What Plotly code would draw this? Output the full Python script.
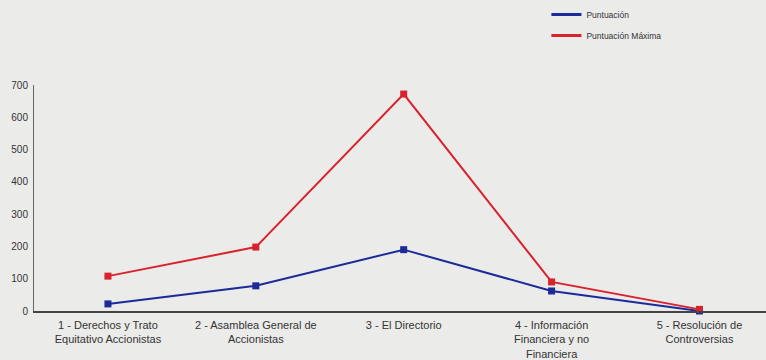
import plotly.graph_objects as go

categories = [
    "1 - Derechos y Trato<br>Equitativo Accionistas",
    "2 - Asamblea General de<br>Accionistas",
    "3 - El Directorio",
    "4 - Información<br>Financiera y no<br>Financiera",
    "5 - Resolución de<br>Controversias",
]
series_names = ["Puntuación", "Puntuación Máxima"]
puntuacion = [22, 78, 190, 62, 0]
puntuacion_maxima = [108, 198, 672, 90, 5]
y_ticks = [0, 100, 200, 300, 400, 500, 600, 700]

blue = "#1c2b99"
red = "#d9222c"

fig = go.Figure()
for name, vals, col in [(series_names[0], puntuacion, blue),
                        (series_names[1], puntuacion_maxima, red)]:
    fig.add_trace(go.Scatter(
        x=list(range(len(categories))), y=vals, name=name,
        mode="lines+markers", line=dict(color=col, width=2),
        marker=dict(symbol="square", size=7, color=col),
        showlegend=False, cliponaxis=False,
    ))
    # legend entry (line only)
    fig.add_trace(go.Scatter(
        x=[None], y=[None], name=name, mode="lines",
        line=dict(color=col, width=3), legendgroup=name,
    ))

fig.update_layout(
    width=766, height=360,
    margin=dict(l=34, r=0, t=85, b=49),
    paper_bgcolor="#ebebea", plot_bgcolor="#ebebea",
    font=dict(family="Liberation Sans, Arial, sans-serif", color="#333333"),
    legend=dict(
        x=0.70, y=1.0, yref="container", yanchor="top", xanchor="left",
        bgcolor="rgba(0,0,0,0)", font=dict(size=8.5, color="#333"),
        itemwidth=30, tracegroupgap=2,
    ),
    xaxis=dict(
        tickmode="array", tickvals=list(range(len(categories))), ticktext=categories,
        range=[-0.5, 4.45], showgrid=False, zeroline=False,
        showline=True, linecolor="#444444", linewidth=1.5,
        ticks="", tickfont=dict(size=11, color="#333"), ticklabelstandoff=3,
    ),
    yaxis=dict(
        tickmode="array", tickvals=y_ticks, range=[0, 700],
        showgrid=False, zeroline=False,
        showline=True, linecolor="#666666", linewidth=1, mirror=True,
        ticks="", tickfont=dict(size=10, color="#333"), ticklabelstandoff=3,
    ),
)
fig.write_html("out.html")
